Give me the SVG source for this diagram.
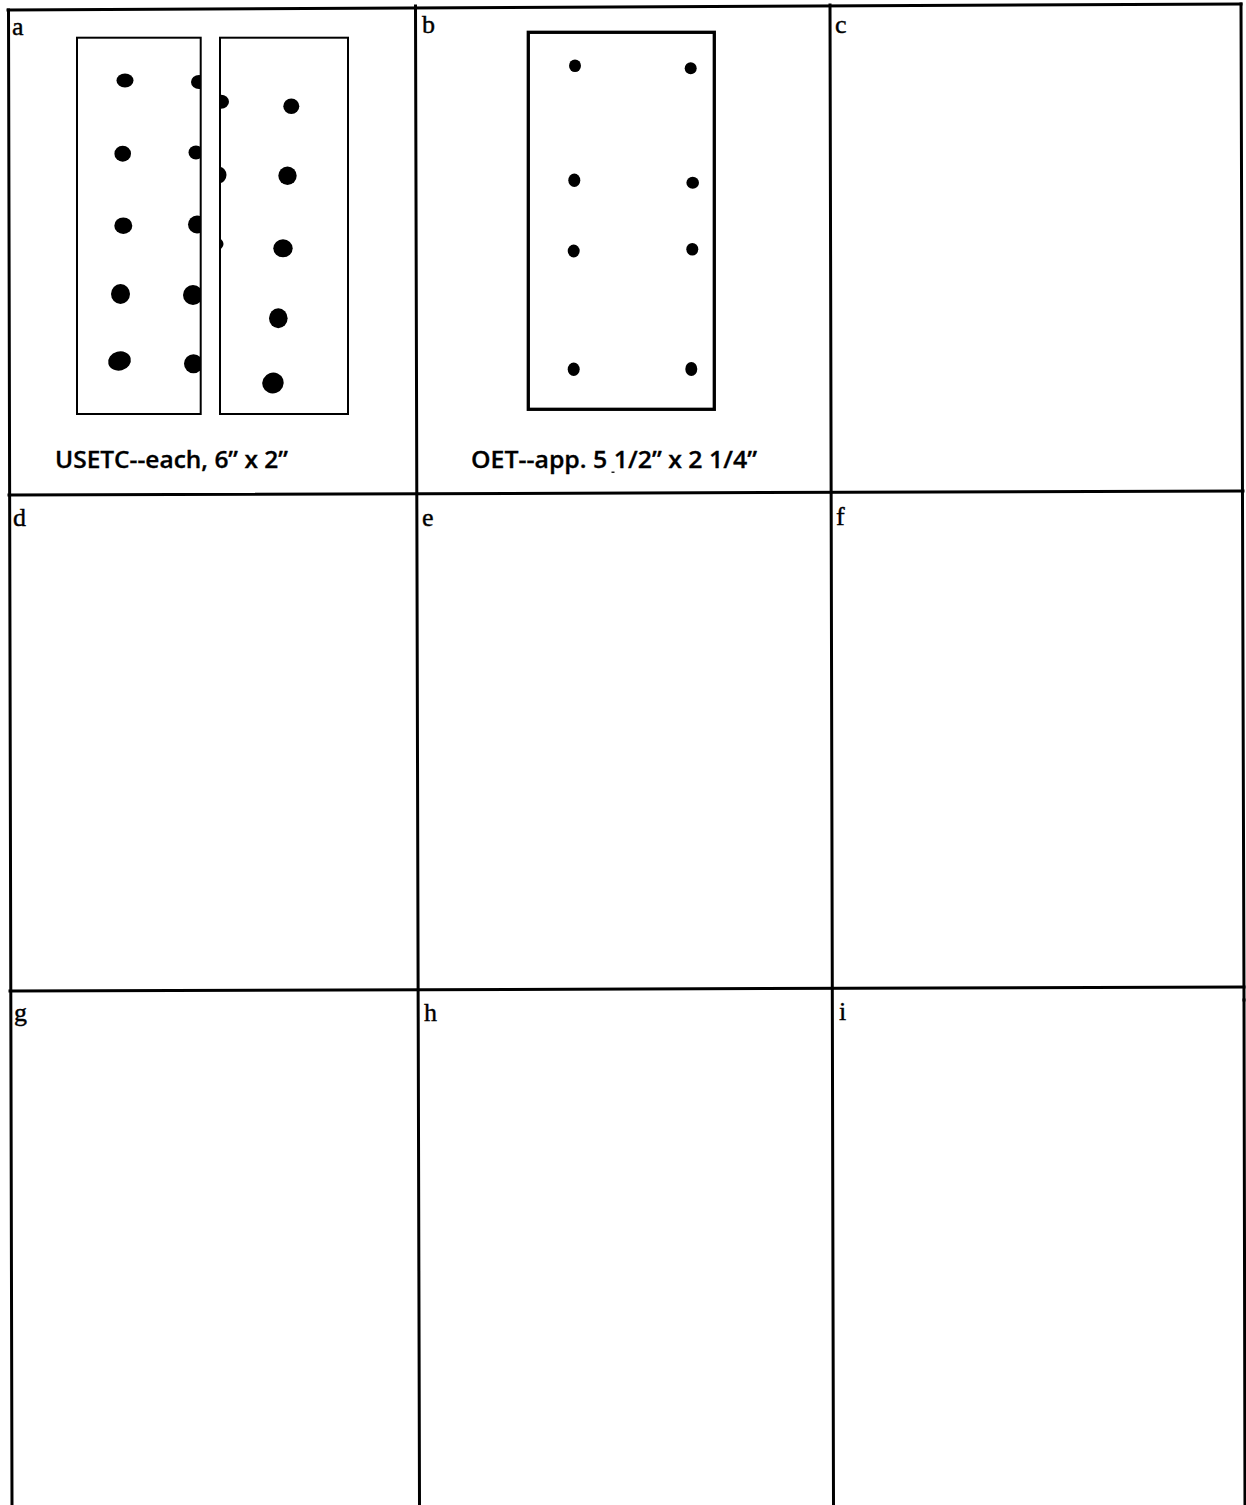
<svg xmlns="http://www.w3.org/2000/svg" width="1246" height="1505" viewBox="0 0 1246 1505">
<style>
.grid{stroke:#000;stroke-width:3;fill:none;stroke-linecap:square}
.lbl{font-family:"Liberation Serif","Times New Roman",serif;font-size:26px;fill:#000;stroke:#000;stroke-width:0.4}
.cap{font-family:"Open Sans","Liberation Sans",Arial,sans-serif;font-size:23px;font-weight:600;fill:#000;stroke:#000;stroke-width:0.3}
.sheet{fill:#fff;stroke:#000;stroke-width:2}
.sheetb{fill:#fff;stroke:#000;stroke-width:3.3}
.dot{fill:#000}
</style>
<defs>
<clipPath id="clipA1"><rect x="77" y="37.7" width="123.7" height="376.3"/></clipPath>
<clipPath id="clipA2"><rect x="220" y="37.7" width="128" height="376.3"/></clipPath>
</defs>
<rect x="0" y="0" width="1246" height="1505" fill="#fff"/>

<g id="grid">
<line class="grid" x1="8" y1="10" x2="1241" y2="4"/>
<line class="grid" x1="9" y1="495" x2="1243" y2="491"/>
<line class="grid" x1="10" y1="991" x2="1244" y2="987"/>
<line class="grid" x1="8.5" y1="10" x2="12" y2="1505"/>
<line class="grid" x1="415.5" y1="6" x2="419.5" y2="1505"/>
<line class="grid" x1="830" y1="5" x2="833.5" y2="1505"/>
<line class="grid" x1="1241" y1="4" x2="1244" y2="1000" stroke-width="2.5"/>
<line class="grid" x1="1244" y1="1000" x2="1245" y2="1505" stroke-width="1.5" stroke="#555"/>
</g>

<g id="panel-a">
<text class="lbl" x="12" y="35">a</text>
<g id="usetc-sheet-1">
<rect class="sheet" x="77" y="37.7" width="123.7" height="376.3"/>
<g clip-path="url(#clipA1)">
<ellipse class="dot" cx="125" cy="80.5" rx="8.5" ry="7"/>
<ellipse class="dot" cx="199" cy="82" rx="8" ry="7"/>
<ellipse class="dot" cx="122.7" cy="153.7" rx="8.3" ry="8"/>
<ellipse class="dot" cx="196" cy="152.5" rx="7.5" ry="7"/>
<ellipse class="dot" cx="123.3" cy="225.7" rx="9" ry="8.3"/>
<ellipse class="dot" cx="197" cy="224.5" rx="9" ry="9"/>
<ellipse class="dot" cx="120.5" cy="294" rx="9.5" ry="10"/>
<ellipse class="dot" cx="193" cy="295" rx="10" ry="10"/>
<ellipse class="dot" cx="119.5" cy="361" rx="11.5" ry="9.5" transform="rotate(-15 119.5 361)"/>
<ellipse class="dot" cx="193.5" cy="363.7" rx="9.5" ry="9.5"/>
</g>
</g>
<g id="usetc-sheet-2">
<rect class="sheet" x="220" y="37.7" width="128" height="376.3"/>
<g clip-path="url(#clipA2)">
<ellipse class="dot" cx="221" cy="101.7" rx="8" ry="7"/>
<ellipse class="dot" cx="291.3" cy="106.2" rx="8" ry="7.8"/>
<ellipse class="dot" cx="218.5" cy="175" rx="8" ry="8.5"/>
<ellipse class="dot" cx="287.5" cy="175.8" rx="9.2" ry="9.2"/>
<ellipse class="dot" cx="217" cy="244" rx="6.5" ry="6"/>
<ellipse class="dot" cx="283" cy="248.3" rx="9.7" ry="9"/>
<ellipse class="dot" cx="278.3" cy="318.3" rx="9.3" ry="10"/>
<ellipse class="dot" cx="273" cy="383" rx="10.8" ry="10.3" transform="rotate(-20 273 383)"/>
</g>
</g>
<text class="cap" x="55" y="468" textLength="233" lengthAdjust="spacingAndGlyphs">USETC--each, 6” x 2”</text>
</g>

<g id="panel-b">
<text class="lbl" x="422" y="33">b</text>
<g id="oet-sheet">
<rect class="sheetb" x="528.3" y="32.3" width="186" height="377"/>
<ellipse class="dot" cx="575" cy="65.7" rx="6" ry="6.3"/>
<ellipse class="dot" cx="690.7" cy="68.3" rx="6" ry="6"/>
<ellipse class="dot" cx="574.3" cy="180.3" rx="6" ry="6.8"/>
<ellipse class="dot" cx="692.7" cy="182.7" rx="6.3" ry="6"/>
<ellipse class="dot" cx="573.7" cy="251" rx="6" ry="6.5"/>
<ellipse class="dot" cx="692.3" cy="249.3" rx="6" ry="6.3"/>
<ellipse class="dot" cx="573.7" cy="369.3" rx="6" ry="6.8"/>
<ellipse class="dot" cx="691.3" cy="369" rx="6" ry="7"/>
</g>
<text class="cap" x="471" y="468" textLength="286" lengthAdjust="spacingAndGlyphs">OET--app. 5 1/2” x 2 1/4”</text>
<rect x="611.5" y="471.5" width="3" height="1.5" fill="#222"/>
</g>

<g id="panel-c"><text class="lbl" x="835" y="33">c</text></g>
<g id="panel-d"><text class="lbl" x="13" y="526">d</text></g>
<g id="panel-e"><text class="lbl" x="422" y="526">e</text></g>
<g id="panel-f"><text class="lbl" x="836" y="525">f</text></g>
<g id="panel-g"><text class="lbl" x="14" y="1021">g</text></g>
<g id="panel-h"><text class="lbl" x="424" y="1021">h</text></g>
<g id="panel-i"><text class="lbl" x="839" y="1020">i</text></g>
</svg>
